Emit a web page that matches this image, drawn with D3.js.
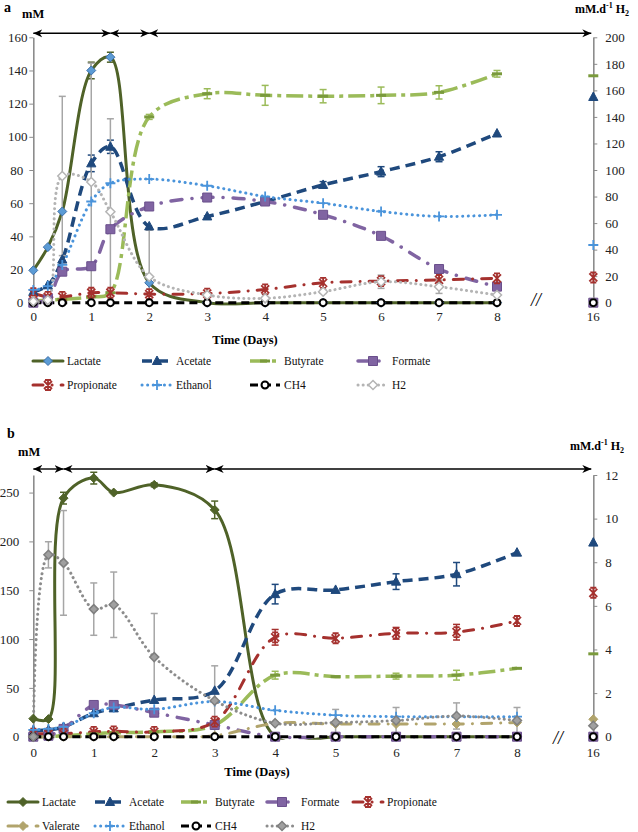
<!DOCTYPE html>
<html><head><meta charset="utf-8">
<script src="https://cdn.jsdelivr.net/npm/d3@7/dist/d3.min.js"></script>
<style>body{margin:0;background:#fff}svg,svg text{font-family:"Liberation Serif","DejaVu Serif",serif}</style>
</head><body><svg id="c" width="638" height="832" font-family="Liberation Serif, DejaVu Serif, serif"></svg>
<script>
// ---------- DATA ----------
const days = [0, 0.25, 0.5, 1, 1.33, 2, 3, 4, 5, 6, 7, 8];
const xTickLabels = [0, 1, 2, 3, 4, 5, 6, 7, 8];
const extraDayLabel = "16";

// Panel a (mM, left axis) ; H2 in mM.d-1 (right axis)
const lactateA    = [19.5, 33.5, 55, 140, 148, 12, 0, 0, 0, 0, 0, 0];
const acetateA    = [6.5, 10.5, 26, 84, 94, 46, 52, 61, 71, 79, 88, 102];
const butyrateA   = [1, 1.5, 2, 3.5, 6, 112, 126, 125, 124.5, 125, 126.8, 138];
const formateA    = [0, 2, 18.7, 22, 44.3, 58, 63.4, 61, 53, 40.3, 20.3, 9.7];
const propionateA = [5.7, 3.5, 3.5, 6, 6, 5.2, 5.5, 8, 12, 13, 13.7, 14.7];
const ethanolA    = [7.7, 10, 22.8, 61, 72, 74.5, 70.5, 64, 60, 55, 52, 53];
const ch4A        = [0, 0, 0, 0, 0, 0, 0, 0, 0, 0, 0, 0];
const h2A         = [1, 2, 95.5, 91, 68.6, 19.6, 5.8, 3.3, 8.3, 15.8, 12, 5.8];
const lactateErrA  = [0, 0, 0, 5, 3, 0, 0, 0, 0, 0, 0, 0];
const acetateErrA  = [0, 0, 0, 5, 4, 0, 0, 0, 2, 3, 3, 0];
const butyrateErrA = [0, 0, 0, 0, 0, 1.5, 3, 6, 4, 5, 4, 2];
const h2ErrA       = [0, 0, 60, 89.5, 70, 35, 0, 3, 1.3, 5, 5, 0];
const day16NamesA  = ["Butyrate", "Acetate", "Ethanol", "Propionate", "Formate", "H2", "CH4"];
const day16ValuesA = [171, 155, 43.5, 19, 0, 0, 0];
const leftTicksA  = [0, 20, 40, 60, 80, 100, 120, 140, 160];
const rightTicksA = [0, 20, 40, 60, 80, 100, 120, 140, 160, 180, 200];
const phaseBreaksA = [0, 1.33, 2];

// Panel b
const lactateB    = [18.5, 18, 244.3, 264.8, 250, 257.9, 232.3, 0, 0, 0, 0, 0];
const acetateB    = [6, 7, 10, 24, 29, 37.6, 47, 146, 150.3, 158.8, 166.4, 188.5];
const butyrateB   = [0, 0, 1, 3, 4, 5, 12, 63, 61.5, 62, 63, 70];
const formateB    = [0, 1, 8, 32.5, 32.5, 24.6, 12, 0, 0, 0, 0, 0];
const propionateB = [3, 3, 3, 5, 5.5, 5, 15.4, 101.8, 100.8, 105.9, 107, 118.5];
const valerateB   = [0, 0, 0, 0, 0, 0, 1, 13.7, 13, 13, 13, 14.5];
const ethanolB    = [7, 8, 10, 24, 30, 28, 36, 27, 22, 20.5, 20.5, 20.5];
const ch4B        = [0, 0, 0, 0, 0, 0, 0, 0, 0, 0, 0, 0];
const h2B         = [0, 8.34, 7.97, 5.85, 6.05, 3.65, 1.65, 0.62, 0.65, 0.74, 0.95, 0.74];
const lactateErrB    = [0, 0, 6, 6, 0, 2, 9, 0, 0, 0, 0, 0];
const acetateErrB    = [0, 0, 0, 0, 0, 0, 0, 10, 0, 8, 12, 0];
const butyrateErrB   = [0, 0, 0, 0, 0, 0, 0, 4, 0, 3, 5, 0];
const propionateErrB = [0, 0, 0, 0, 0, 0, 0, 8, 0, 6, 8, 0];
const h2ErrB         = [0, 0.6, 2.4, 1.2, 1.5, 2.0, 1.6, 0, 0.6, 0.6, 0.6, 0.6];
const day16NamesB  = ["Acetate", "Propionate", "Butyrate", "Valerate", "H2", "Formate", "CH4"];
const day16ValuesB = [8.9, 6.6, 3.8, 0.8, 0.5, 0, 0];
const leftTicksB  = [0, 50, 100, 150, 200, 250];
const rightTicksB = [0, 2, 4, 6, 8, 10, 12];
const phaseBreaksB = [0, 0.5, 3];

const legendOrderA = ["Lactate", "Acetate", "Butyrate", "Formate", "Propionate", "Ethanol", "CH4", "H2"];
const legendOrderB = ["Lactate", "Acetate", "Butyrate", "Formate", "Propionate", "Valerate", "Ethanol", "CH4", "H2"];

// ---------- STYLES ----------
const FONT = "Liberation Serif, DejaVu Serif, serif";
const styles = {
  Lactate:    {color: "#4f6228", dash: null, w: 3, cap: "round", marker: "diamond"},
  Acetate:    {color: "#1f497d", dash: "10,6", w: 3.5, cap: "butt", marker: "triangle"},
  Butyrate:   {color: "#9bbb59", dash: "17,5,4,5", w: 3.5, cap: "butt", marker: "dash"},
  Formate:    {color: "#8064a2", dash: "11,10,0.1,10", w: 3.5, cap: "round", marker: "square"},
  Propionate: {color: "#a5312e", dash: "10,9,0.1,9", w: 3, cap: "round", marker: "asterisk"},
  Valerate:   {color: "#b1a46c", dash: "10,9,0.1,9", w: 3, cap: "round", marker: "diamond"},
  Ethanol:    {color: "#4a94db", dash: "0.1,5.5", w: 3, cap: "round", marker: "plus"},
  CH4:        {color: "#000000", dash: "8,5", w: 3, cap: "butt", marker: "circle"},
  H2:         {color: "#a6a6a6", dash: "0.1,5", w: 3, cap: "round", marker: "diamondOpen"}
};

function markerPath(t) {
  switch (t) {
    case "diamond": case "diamondOpen": return "M0,-4.5L4.5,0L0,4.5L-4.5,0Z";
    case "triangle": return "M0,-5L4.6,3.5L-4.6,3.5Z";
    case "square": return "M-4.5,-4.5H4.5V4.5H-4.5Z";
    case "asterisk": return "M-4,-4L4,4M-4,4L4,-4M0,-5V5M-3,-5H3M-3,5H3";
    case "plus": return "M-5,0H5M0,-5V5";
    case "dash": return "M-5,0H5";
    case "circle": return d3.symbol(d3.symbolCircle, 38)();
  }
}
function markerStyle(sel, name, panel) {
  const s = styles[name];
  let fill = s.color, stroke = s.color, sw = 1;
  if (s.marker === "asterisk" || s.marker === "plus") { fill = "none"; sw = 1.8; }
  if (s.marker === "dash") { fill = "none"; stroke = "#7a9a3c"; sw = 3; }
  if (s.marker === "circle") { fill = "#fff"; stroke = "#000"; sw = 2; }
  if (name === "H2") { fill = panel === "a" ? "#fff" : "#a0a0a0"; stroke = panel === "a" ? "#b4b4b4" : "#7f7f7f"; sw = 1.5; }
  if (name === "Lactate" && panel === "a") { fill = "#5b9bd5"; stroke = "#3d6fa8"; }
  if (name === "Formate") { stroke = "#6a4f8c"; }
  sel.attr("fill", fill).attr("stroke", stroke).attr("stroke-width", sw);
}

const svg = d3.select("#c");
const defs = svg.append("defs");
defs.append("marker").attr("id", "ah").attr("viewBox", "0 0 10 10")
  .attr("refX", 10).attr("refY", 5).attr("markerWidth", 9).attr("markerHeight", 9)
  .attr("markerUnits", "userSpaceOnUse").attr("orient", "auto-start-reverse")
  .append("path").attr("d", "M0,0.5L10,5L0,9.5L3,5Z").attr("fill", "#000");

function drawPanel(p) {
  const g = svg.append("g").attr("font-family", FONT);
  const x = d3.scaleLinear().domain([0, 8]).range([p.x0, p.x8]);
  const yL = d3.scaleLinear().domain([0, p.lMax]).range([p.yBottom, p.yTop]);
  const yR = d3.scaleLinear().domain([0, p.rMax]).range([p.yBottom, p.yTop]);
  const clipId = "clip" + p.id;
  defs.append("clipPath").attr("id", clipId).append("rect")
    .attr("x", p.x0 - 2).attr("y", p.yTop - 8).attr("width", p.xR - p.x0 + 4).attr("height", p.yBottom - p.yTop + 11);

  // axes
  const la = g.append("g").attr("transform", `translate(${p.x0},0)`)
    .call(d3.axisLeft(yL).tickValues(p.lTicks).tickSize(4).tickSizeOuter(0).tickPadding(p.lPad));
  la.attr("font-family", FONT);
  la.select(".domain").attr("stroke", "#8c8c8c").attr("stroke-width", 1.6);
  la.selectAll(".tick line").attr("stroke", "#8c8c8c");
  la.selectAll("text").attr("font-size", 13).attr("fill", "#222");
  if (p.minLabelX !== undefined) {
    la.selectAll("text").each(function () {
      const w = this.getComputedTextLength();
      const start = p.x0 - 4 - p.lPad - w;
      if (start < p.minLabelX) d3.select(this).attr("text-anchor", "start").attr("x", p.minLabelX - p.x0);
    });
  }
  const ra = g.append("g").attr("transform", `translate(${p.xR},0)`)
    .call(d3.axisRight(yR).tickValues(p.rTicks).tickSize(4).tickSizeOuter(0).tickPadding(8));
  ra.attr("font-family", FONT);
  ra.select(".domain").attr("stroke", "#8c8c8c").attr("stroke-width", 1.6);
  ra.selectAll(".tick line").attr("stroke", "#8c8c8c");
  ra.selectAll("text").attr("font-size", 13).attr("fill", "#222");

  const xa = g.append("g").attr("transform", `translate(0,${p.yBottom})`)
    .call(d3.axisBottom(x).tickValues(xTickLabels).tickSize(0).tickPadding(p.xPad));
  xa.attr("font-family", FONT);
  xa.select(".domain").remove();
  xa.selectAll("text").attr("font-size", 13).attr("fill", "#222");
  g.append("text").attr("x", p.xR).attr("y", p.yBottom + p.xPad).attr("dy", "0.71em")
    .attr("text-anchor", "middle").attr("font-size", 13).attr("fill", "#222").text(extraDayLabel);
  g.append("text").attr("x", p.breakX).attr("y", p.breakY).attr("text-anchor", "middle")
    .attr("font-size", 18).attr("font-style", "italic").text("//");

  // phase arrows
  const bx = p.phases.map(d => x(d)).concat([p.xR - 2]);
  for (let i = 0; i < bx.length - 1; i++) {
    g.append("line").attr("x1", bx[i]).attr("x2", bx[i + 1]).attr("y1", p.arrowY).attr("y2", p.arrowY)
      .attr("stroke", "#000").attr("stroke-width", 1.4)
      .attr("marker-start", "url(#ah)").attr("marker-end", "url(#ah)");
  }

  // titles
  g.append("text").attr("x", p.letterX).attr("y", p.letterY).attr("font-size", 14).attr("font-weight", "bold").text(p.letter);
  g.append("text").attr("x", p.mmX).attr("y", p.mmY).attr("font-size", 12.5).attr("font-weight", "bold").text("mM");
  const rt = g.append("text").attr("x", p.rtX).attr("y", p.rtY).attr("font-size", 12).attr("font-weight", "bold");
  rt.append("tspan").text("mM.d");
  rt.append("tspan").attr("font-size", 8).attr("dy", -5).text("-1");
  rt.append("tspan").attr("dy", 5).text(" H");
  rt.append("tspan").attr("font-size", 8).attr("dy", 3).text("2");
  g.append("text").attr("x", p.titleX).attr("y", p.titleY).attr("text-anchor", "middle")
    .attr("font-size", 12.5).attr("font-weight", "bold").text("Time (Days)");

  // series
  const plot = g.append("g").attr("clip-path", `url(#${clipId})`);
  const line = d3.line().curve(d3.curveCatmullRom.alpha(0.5));
  p.series.forEach(s => {
    const st = styles[s.name];
    const yS = s.axis === "R" ? yR : yL;
    const pts = days.map((d, i) => [x(d), yS(s.values[i])]);
    plot.append("path").attr("d", line(pts)).attr("fill", "none")
      .attr("stroke", s.name === "H2" ? p.h2Color : st.color).attr("stroke-width", st.w)
      .attr("stroke-dasharray", st.dash).attr("stroke-linecap", st.cap).attr("stroke-linejoin", "round");
  });
  p.series.forEach(s => {
    if (!s.err) return;
    const yS = s.axis === "R" ? yR : yL;
    const col = s.name === "H2" ? "#a6a6a6" : styles[s.name].color;
    days.forEach((d, i) => {
      const e = s.err[i];
      if (!e) return;
      const v = s.values[i];
      const y1 = yS(v + e), y0 = yS(Math.max(0, v - e)), cx = x(d);
      g.append("line").attr("x1", cx).attr("x2", cx).attr("y1", y1).attr("y2", y0).attr("stroke", col).attr("stroke-width", 1.5);
      g.append("line").attr("x1", cx - 3.5).attr("x2", cx + 3.5).attr("y1", y1).attr("y2", y1).attr("stroke", col).attr("stroke-width", 1.5);
      if (v - e > 0) g.append("line").attr("x1", cx - 3.5).attr("x2", cx + 3.5).attr("y1", y0).attr("y2", y0).attr("stroke", col).attr("stroke-width", 1.5);
    });
  });
  p.series.forEach(s => {
    const yS = s.axis === "R" ? yR : yL;
    const st = styles[s.name];
    g.append("g").selectAll("path").data(days).join("path")
      .attr("transform", (d, i) => `translate(${x(d)},${yS(s.values[i])})`)
      .attr("d", markerPath(st.marker)).call(markerStyle, s.name, p.id);
  });
  // day 16 values (right axis)
  p.d16names.forEach((n, i) => {
    g.append("path").attr("transform", `translate(${p.xR},${yR(p.d16values[i])})`)
      .attr("d", markerPath(styles[n].marker)).call(markerStyle, n, p.id);
  });

  // legend
  p.legend.forEach((n, i) => {
    const col = i % p.legCols, row = Math.floor(i / p.legCols);
    const lx = p.legX[col], ly = p.legY[row];
    const st = styles[n];
    g.append("line").attr("x1", lx).attr("x2", lx + p.legLen).attr("y1", ly).attr("y2", ly)
      .attr("stroke", n === "H2" ? p.h2Color : st.color).attr("stroke-width", st.w)
      .attr("stroke-dasharray", st.dash).attr("stroke-linecap", st.cap);
    g.append("path").attr("transform", `translate(${lx + p.legLen / 2},${ly})`)
      .attr("d", markerPath(st.marker)).call(markerStyle, n, p.id);
    g.append("text").attr("x", lx + p.legLen + 4).attr("y", ly).attr("dy", "0.33em")
      .attr("font-size", 11.5).attr("fill", "#111").text(n);
  });
}

drawPanel({
  id: "a", x0: 33.3, x8: 497, xR: 593.3, yTop: 37.3, yBottom: 302.7, lMax: 160, rMax: 200,
  lTicks: leftTicksA, rTicks: rightTicksA, lPad: 6, minLabelX: 8, xPad: 9,
  breakX: 536, breakY: 306, phases: phaseBreaksA, arrowY: 33.3,
  letter: "a", letterX: 4, letterY: 12, mmX: 22, mmY: 18, rtX: 575, rtY: 13,
  titleX: 245, titleY: 344, h2Color: "#b4b4b4",
  series: [
    {name: "Lactate", values: lactateA, err: lactateErrA, axis: "L"},
    {name: "Acetate", values: acetateA, err: acetateErrA, axis: "L"},
    {name: "Butyrate", values: butyrateA, err: butyrateErrA, axis: "L"},
    {name: "Formate", values: formateA, axis: "L"},
    {name: "Propionate", values: propionateA, axis: "L"},
    {name: "Ethanol", values: ethanolA, axis: "L"},
    {name: "CH4", values: ch4A, axis: "L"},
    {name: "H2", values: h2A, err: h2ErrA, axis: "R"}
  ],
  d16names: day16NamesA, d16values: day16ValuesA,
  legend: legendOrderA, legCols: 4, legX: [33, 142, 250, 358], legY: [361, 385], legLen: 30
});

drawPanel({
  id: "b", x0: 33.3, x8: 517, xR: 593.3, yTop: 475, yBottom: 736.7, lMax: 268, rMax: 12,
  lTicks: leftTicksB, rTicks: rightTicksB, lPad: 10, xPad: 11.5,
  breakX: 558, breakY: 744, phases: phaseBreaksB, arrowY: 469,
  letter: "b", letterX: 7, letterY: 438, mmX: 18, mmY: 456, rtX: 570, rtY: 450,
  titleX: 257, titleY: 776, h2Color: "#8c8c8c",
  series: [
    {name: "Lactate", values: lactateB, err: lactateErrB, axis: "L"},
    {name: "Acetate", values: acetateB, err: acetateErrB, axis: "L"},
    {name: "Butyrate", values: butyrateB, err: butyrateErrB, axis: "L"},
    {name: "Formate", values: formateB, axis: "L"},
    {name: "Propionate", values: propionateB, err: propionateErrB, axis: "L"},
    {name: "Valerate", values: valerateB, axis: "L"},
    {name: "Ethanol", values: ethanolB, axis: "L"},
    {name: "CH4", values: ch4B, axis: "L"},
    {name: "H2", values: h2B, err: h2ErrB, axis: "R"}
  ],
  d16names: day16NamesB, d16values: day16ValuesB,
  legend: legendOrderB, legCols: 5, legX: [8, 95, 181, 267, 353], legY: [802, 826], legLen: 30
});
</script></body></html>
